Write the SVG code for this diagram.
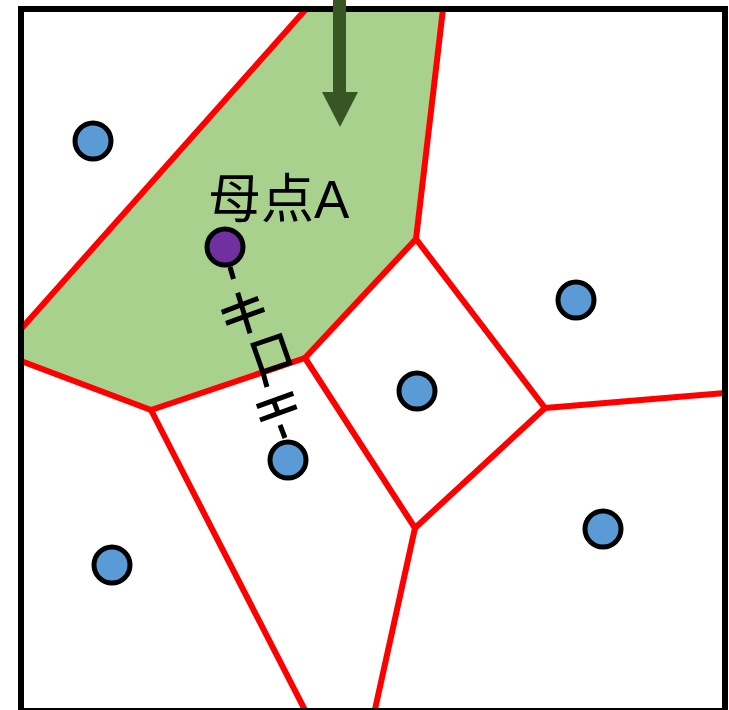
<svg xmlns="http://www.w3.org/2000/svg" width="729" height="710" viewBox="0 0 729 710">
  <style>
    .edge { stroke: #FF0000; stroke-width: 6; stroke-linecap: round; fill: none; }
    .site { fill: #5B9BD5; stroke: #000; stroke-width: 5; }
    .mother { fill: #7030A0; stroke: #000; stroke-width: 5; }
    .mark { stroke: #000; stroke-width: 5; fill: none; }
    .label { font-family: "Noto Sans CJK SC", "Noto Sans CJK JP", "Liberation Sans", sans-serif; font-size: 53px; fill: #000; }
    .latin { font-family: "Liberation Sans", Arial, sans-serif; }
  </style>

  <rect x="0" y="0" width="729" height="710" fill="#FFFFFF"/>

  <!-- Voronoi cell of mother point A -->
  <g id="cell-A">
    <polygon points="306,9 443,9 416,239 305,358 151,410 21,361 21,329" fill="#A9D18E"/>
  </g>

  <!-- Voronoi edges -->
  <g id="edges">
    <line class="edge" x1="306" y1="9" x2="21" y2="329"/>
    <line class="edge" x1="443" y1="9" x2="416" y2="239"/>
    <line class="edge" x1="416" y1="239" x2="305" y2="358"/>
    <line class="edge" x1="305" y1="358" x2="151" y2="410"/>
    <line class="edge" x1="151" y1="410" x2="21" y2="361"/>
    <line class="edge" x1="151" y1="410" x2="307" y2="714"/>
    <line class="edge" x1="305" y1="358" x2="415" y2="528"/>
    <line class="edge" x1="416" y1="239" x2="545" y2="408"/>
    <line class="edge" x1="545" y1="408" x2="725" y2="393"/>
    <line class="edge" x1="545" y1="408" x2="415" y2="528"/>
    <line class="edge" x1="415" y1="528" x2="374" y2="714"/>
  </g>

  <!-- Outer boundary -->
  <rect id="frame" x="21" y="9" width="704" height="702" fill="none" stroke="#000" stroke-width="6"/>

  <!-- Incoming arrow -->
  <g id="arrow">
    <rect x="333" y="0" width="13" height="94" fill="#375623"/>
    <polygon points="322,92 358,92 340,127" fill="#375623"/>
  </g>

  <!-- Perpendicular bisector marks between A and its neighbour -->
  <g id="connectors">
    <line class="mark" stroke-width="3" x1="230" y1="267" x2="233.5" y2="279"/>
    <line class="mark" stroke-width="3.5" x1="237.7" y1="292.7" x2="250" y2="333.3"/>
    <line class="mark" x1="221.7" y1="312.3" x2="258.3" y2="298.3"/>
    <line class="mark" x1="226" y1="323.3" x2="264.3" y2="309.3"/>
    <polygon class="mark" stroke-width="3" points="253.3,345 280,336 289.5,363 262.8,372"/>
    <line class="mark" stroke-width="3" x1="262.8" y1="372" x2="267" y2="387"/>
    <line class="mark" x1="256.7" y1="406.7" x2="293.3" y2="393.3"/>
    <line class="mark" x1="260" y1="420" x2="296.7" y2="406.7"/>
    <line class="mark" stroke-width="3.5" x1="273.3" y1="400" x2="278.3" y2="413.3"/>
    <line class="mark" stroke-width="3" x1="280" y1="425" x2="285" y2="438"/>
  </g>

  <!-- Generator points -->
  <g id="node-A">
    <circle class="mother" cx="225" cy="247" r="18"/>
    <text class="label" x="208" y="218">母点<tspan class="latin">A</tspan></text>
  </g>
  <g id="node-1"><circle class="site" cx="93" cy="141" r="18"/></g>
  <g id="node-2"><circle class="site" cx="576" cy="300" r="18"/></g>
  <g id="node-3"><circle class="site" cx="417" cy="391" r="18"/></g>
  <g id="node-4"><circle class="site" cx="288" cy="460" r="18"/></g>
  <g id="node-5"><circle class="site" cx="112" cy="565" r="18"/></g>
  <g id="node-6"><circle class="site" cx="603" cy="529" r="18"/></g>
</svg>
